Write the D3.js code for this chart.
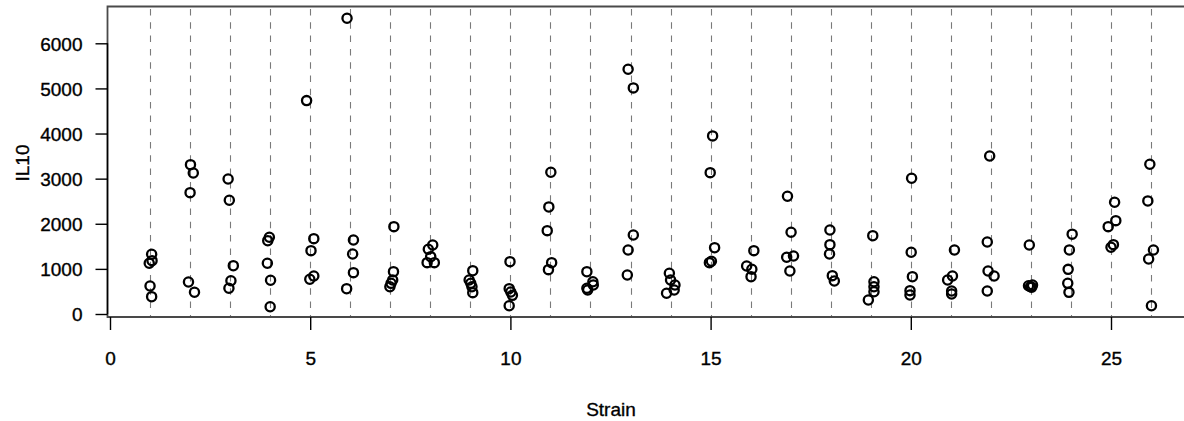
<!DOCTYPE html>
<html>
<head>
<meta charset="utf-8">
<script src="https://cdn.jsdelivr.net/npm/d3@7"></script>
<style>
  html, body { margin: 0; padding: 0; background: #fff; }
  svg { display: block; }
  text { font-family: "Liberation Sans", Arial, Helvetica, sans-serif; fill: #000; stroke: #000; stroke-width: 0.35px; }
</style>
</head>
<body>
<svg id="chart" width="1184" height="421"></svg>
<script>
// ---- data ----
const strains = d3.range(1, 27);
// IL10 values per strain
const il10 = [
  [1323, 1124, 1182, 621, 384],
  [3310, 3126, 2690, 710, 481],
  [2993, 2521, 1071, 738, 570],
  [1700, 1625, 1124, 747, 162],
  [4730, 1670, 1404, 843, 769],
  [6556, 1641, 1330, 916, 561],
  [1936, 938, 754, 680, 605],
  [1530, 1434, 1271, 1138, 1138],
  [960, 754, 680, 605, 473],
  [1160, 561, 488, 414, 184],
  [3142, 2373, 1847, 1138, 983],
  [938, 716, 643, 570, 532],
  [5426, 5011, 1752, 1419, 865],
  [902, 754, 643, 532, 459],
  [3947, 3133, 1470, 1168, 1138],
  [1404, 1064, 991, 827],
  [2610, 1811, 1286, 1257, 953],
  [1863, 1537, 1330, 850, 732],
  [1736, 716, 605, 494, 310],
  [3009, 1368, 827, 517, 421],
  [1419, 843, 754, 510, 443],
  [3503, 1596, 953, 843, 510],
  [1530, 627, 605, 643, 592],
  [1770, 1420, 990, 680, 480],
  [2477, 2069, 1936, 1537, 1479],
  [3319, 2506, 1419, 1220, 184]
];
// horizontal jitter offsets of each point (strain units)
const jitter = [
  [0.04, -0.02, 0.05, 0.00, 0.04],
  [0.01, 0.08, 0.00, -0.04, 0.11],
  [-0.05, -0.02, 0.08, 0.02, -0.03],
  [-0.02, -0.06, -0.07, 0.01, 0.00],
  [-0.09, 0.09, 0.02, 0.09, -0.01],
  [-0.08, 0.08, 0.06, 0.08, -0.09],
  [0.09, 0.08, 0.06, 0.02, -0.01],
  [0.06, -0.05, 0.01, -0.08, 0.10],
  [0.06, -0.03, 0.01, 0.04, 0.06],
  [-0.01, -0.03, 0.01, 0.05, -0.03],
  [0.01, -0.04, -0.08, 0.03, -0.05],
  [-0.09, 0.06, 0.07, -0.09, -0.07],
  [-0.06, 0.07, 0.07, -0.06, -0.08],
  [-0.03, 0.00, 0.11, 0.09, -0.10],
  [0.05, -0.01, 0.10, 0.02, -0.03],
  [0.08, -0.10, 0.03, 0.01],
  [-0.08, 0.01, 0.07, -0.10, -0.02],
  [-0.02, -0.02, -0.03, 0.04, 0.09],
  [0.05, 0.08, 0.08, 0.08, -0.06],
  [0.02, 0.01, 0.04, -0.02, -0.02],
  [0.09, 0.04, -0.08, 0.02, 0.02],
  [-0.03, -0.09, -0.07, 0.08, -0.09],
  [-0.04, -0.06, -0.01, 0.04, 0.02],
  [0.03, -0.04, -0.07, -0.08, -0.05],
  [0.09, 0.12, -0.07, 0.06, 0.00],
  [-0.03, -0.08, 0.06, -0.06, 0.01]
];
const xTicks = [0, 5, 10, 15, 20, 25];
const yTicks = [0, 1000, 2000, 3000, 4000, 5000, 6000];
const xTitle = "Strain";
const yTitle = "IL10";

// ---- layout ----
const svg = d3.select("#chart");
const box = { left: 107.5, top: 6.5, right: 1190, bottom: 317 };

const x = d3.scaleLinear().domain([0, 25]).range([110, 1111]);
const y = d3.scaleLinear().domain([0, 6000]).range([314, 43.3]);

// dashed strain guides
svg.append("g").selectAll("line").data(strains).join("line")
  .attr("x1", d => Math.round(x(d)) + 0.5).attr("x2", d => Math.round(x(d)) + 0.5)
  .attr("y1", box.top + 2.5).attr("y2", box.bottom)
  .attr("stroke", "#7a7a7a").attr("stroke-width", 1.1)
  .attr("stroke-dasharray", "6.5,6.8");

// box (left, top, bottom; right side beyond the view)
svg.append("path")
  .attr("d", `M${box.right},${box.top}H${box.left}V${box.bottom}H${box.right}`)
  .attr("fill", "none").attr("stroke", "#4a4a4a").attr("stroke-width", 1.8);

// y axis
const yAxis = d3.axisLeft(y).tickValues(yTicks).tickSize(12).tickPadding(13).tickFormat(d3.format("d"));
const gy = svg.append("g").attr("transform", `translate(${box.left},0)`).call(yAxis);
gy.select(".domain").attr("stroke", "#000").attr("stroke-width", 1.4)
  .attr("d", `M0,${y(0)}V${y(6000)}`);
gy.selectAll(".tick line").attr("stroke", "#000").attr("stroke-width", 1.4);
gy.selectAll(".tick text").attr("font-size", "19px").attr("dy", "0.36em")
  .style("font-family", '"Liberation Sans", Arial, sans-serif');

// x axis
const xAxis = d3.axisBottom(x).tickValues(xTicks).tickSize(13).tickPadding(22).tickFormat(d3.format("d"));
const gx = svg.append("g").attr("transform", `translate(0,${box.bottom})`).call(xAxis);
gx.select(".domain").attr("stroke", "#4a4a4a").attr("stroke-width", 1.4)
  .attr("d", `M${x(0)},0H${x(25)}`);
gx.selectAll(".tick line").attr("stroke", "#000").attr("stroke-width", 1.4);
gx.selectAll(".tick text").attr("font-size", "19px")
  .style("font-family", '"Liberation Sans", Arial, sans-serif');

// titles
svg.append("text").attr("x", 611).attr("y", 416)
  .attr("text-anchor", "middle").attr("font-size", "19px").text(xTitle);
svg.append("text").attr("transform", "translate(29,163) rotate(-90)")
  .attr("text-anchor", "middle").attr("font-size", "19px").text(yTitle);

// points
const pts = [];
il10.forEach((vals, i) => vals.forEach((v, j) => pts.push({ s: strains[i], v, dx: jitter[i][j] })));
svg.append("g").selectAll("circle").data(pts).join("circle")
  .attr("cx", d => x(d.s + d.dx)).attr("cy", d => y(d.v))
  .attr("r", 4.6).attr("fill", "none").attr("stroke", "#000").attr("stroke-width", 2.3);
</script>
</body>
</html>
